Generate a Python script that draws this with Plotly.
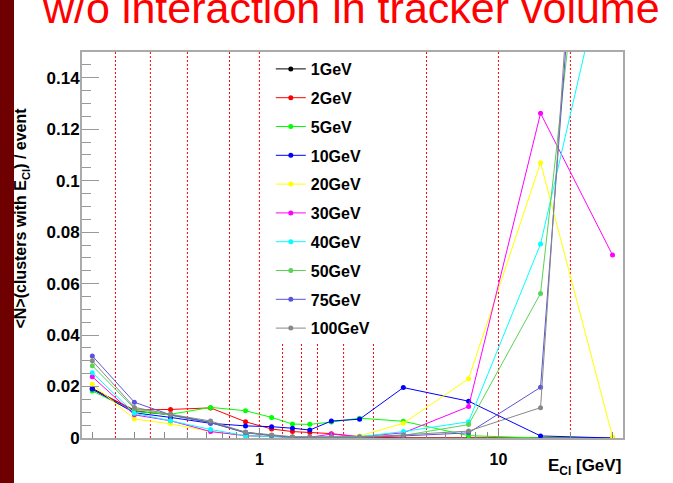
import plotly.graph_objects as go

# Bin centres (GeV)
e_cl = [0.2, 0.3, 0.425, 0.625, 0.875, 1.125, 1.375, 1.625, 2.0, 2.625, 4.0, 7.5, 15.0, 30.0]

series_names = ["1GeV", "2GeV", "5GeV", "10GeV", "20GeV", "30GeV", "40GeV", "50GeV", "75GeV", "100GeV"]
series_colors = ["#000000", "#ff0000", "#00ff00", "#0000ff", "#ffff00", "#ff00ff", "#00ffff",
                 "#59d454", "#5954d9", "#888888"]

y_1gev = [0.0193, 0.0105, 0.0090, 0.0060, 0.0022, 0.0010, 0.0, 0.0, 0.0, 0.0, 0.0, 0.0, 0.0, 0.0]
y_2gev = [0.0189, 0.0109, 0.0111, 0.0117, 0.0063, 0.0035, 0.0025, 0.0021, 0.0017, 0.0005, 0.0, 0.0, 0.0, 0.0]
y_5gev = [0.0183, 0.0103, 0.0092, 0.0119, 0.0106, 0.0080, 0.0054, 0.0053, 0.0062, 0.0077, 0.0065, 0.0009, 0.0, 0.0]
y_10gev = [0.0190, 0.0098, 0.0080, 0.0057, 0.0047, 0.0044, 0.0038, 0.0031, 0.0066, 0.0073, 0.0196, 0.0143, 0.0008, 0.0]
y_20gev = [0.0209, 0.0074, 0.0055, 0.0025, 0.0009, 0.0005, 0.0003, 0.0003, 0.0005, 0.0008, 0.0057, 0.0230, 0.1070, 0.0005]
y_30gev = [0.0238, 0.0090, 0.0067, 0.0025, 0.0009, 0.0005, 0.0003, 0.0003, 0.0015, 0.0005, 0.0020, 0.0122, 0.1262, 0.0711]
y_40gev = [0.0254, 0.0096, 0.0067, 0.0033, 0.0009, 0.0005, 0.0003, 0.0003, 0.0004, 0.0005, 0.0025, 0.0063, 0.0754, 0.197]
y_50gev = [0.0281, 0.0115, 0.0088, 0.0060, 0.0020, 0.0010, 0.0003, 0.0003, 0.0003, 0.0005, 0.0010, 0.0052, 0.0562, 0.31]
y_75gev = [0.0319, 0.0139, 0.0090, 0.0060, 0.0020, 0.0010, 0.0003, 0.0003, 0.0003, 0.0003, 0.0008, 0.0020, 0.0197, 0.395]
y_100gev = [0.0300, 0.0119, 0.0092, 0.0066, 0.0022, 0.0012, 0.0005, 0.0003, 0.0003, 0.0003, 0.0012, 0.0027, 0.0118, 0.43]

series_values = [y_1gev, y_2gev, y_5gev, y_10gev, y_20gev, y_30gev, y_40gev, y_50gev, y_75gev, y_100gev]

# Bin edges drawn as red dotted lines
edges_full = [0.25, 0.35, 0.5, 0.75, 1.0, 5.0, 10.0, 20.0]
edges_short = [1.25, 1.5, 1.75, 2.25, 3.0]
short_top = 0.037

x_major = [1, 10]
x_major_text = ["1", "10"]
x_minor = [0.2, 0.3, 0.4, 0.5, 0.6, 0.7, 0.8, 0.9, 2, 3, 4, 5, 6, 7, 8, 9, 20, 30]
y_ticks = [0, 0.02, 0.04, 0.06, 0.08, 0.1, 0.12, 0.14]
y_ticktext = ["0", "0.02", "0.04", "0.06", "0.08", "0.1", "0.12", "0.14"]

title_text = "w/o interaction in tracker volume"
ytitle_text = "&lt;N&gt;(clusters with E<sub>Cl</sub>) / event"
xtitle_text = "E<sub>Cl</sub> [GeV]"

FONT = "Liberation Sans, Arial, sans-serif"

fig = go.Figure()
for name, color, vals in zip(series_names, series_colors, series_values):
    fig.add_trace(go.Scatter(
        x=e_cl, y=vals, name=name, legendgroup=name,
        mode="lines+markers",
        line=dict(color=color, width=1),
        marker=dict(color=color, size=5),
    ))

shapes = []
for e in edges_full:
    shapes.append(dict(type="line", xref="x", yref="paper", x0=e, x1=e, y0=0, y1=1,
                       line=dict(color="#ff0000", width=1, dash="2px,2px"), layer="below"))
for e in edges_short:
    shapes.append(dict(type="line", xref="x", yref="y", x0=e, x1=e, y0=0, y1=short_top,
                       line=dict(color="#ff0000", width=1, dash="2px,2px"), layer="below"))
# dark red stripe on the left of the slide
shapes.append(dict(type="rect", xref="paper", yref="paper",
                   x0=-0.1516, x1=-0.1257, y0=-0.12, y1=1.14,
                   fillcolor="#6f0000", line=dict(width=0), layer="above"))

fig.update_layout(
    width=673, height=483,
    margin=dict(l=82, r=50, t=52, b=45),
    paper_bgcolor="white", plot_bgcolor="white",
    shapes=shapes,
    showlegend=True,
    legend=dict(x=0.349, y=1.0, xanchor="left", yanchor="top",
                bgcolor="rgba(255,255,255,0)", borderwidth=0,
                font=dict(family=FONT, size=16, color="black", weight="bold"),
                tracegroupgap=5, itemwidth=30),
    annotations=[
        dict(text=title_text, xref="paper", yref="paper", x=0.498, y=1.114,
             xanchor="center", yanchor="middle", showarrow=False,
             font=dict(family=FONT, size=43, color="red")),
        dict(text=ytitle_text, xref="paper", yref="paper", x=-0.111, y=0.571,
             xanchor="center", yanchor="middle", showarrow=False, textangle=-90,
             font=dict(family=FONT, size=16, color="black", weight="bold")),
        dict(text=xtitle_text, xref="paper", yref="paper", x=1.0, y=-0.075,
             xanchor="right", yanchor="middle", showarrow=False,
             font=dict(family=FONT, size=17, color="black", weight="bold")),
    ],
)

fig.update_xaxes(
    type="log", range=[-0.742, 1.521],
    tickvals=x_major, ticktext=x_major_text,
    ticks="inside", ticklen=10, tickcolor="#888888", tickwidth=1,
    minor=dict(tickvals=x_minor, ticks="inside", ticklen=6, tickcolor="#888888"),
    showgrid=False, zeroline=False,
    showline=True, mirror=True, linecolor="#aaaaaa", linewidth=2,
    tickfont=dict(family=FONT, size=16, color="black", weight="bold"),
    ticklabelstandoff=6,
)
fig.update_yaxes(
    range=[0, 0.15],
    tickvals=y_ticks, ticktext=y_ticktext,
    ticks="inside", ticklen=17, tickcolor="#999999", tickwidth=1,
    minor=dict(dtick=0.005, tick0=0, ticks="inside", ticklen=9, tickcolor="#999999"),
    showgrid=False, zeroline=False,
    showline=True, mirror=True, linecolor="#aaaaaa", linewidth=2,
    tickfont=dict(family=FONT, size=17, color="black", weight="bold"),
    ticklabelstandoff=-3,
)

fig.write_html("out.html")
